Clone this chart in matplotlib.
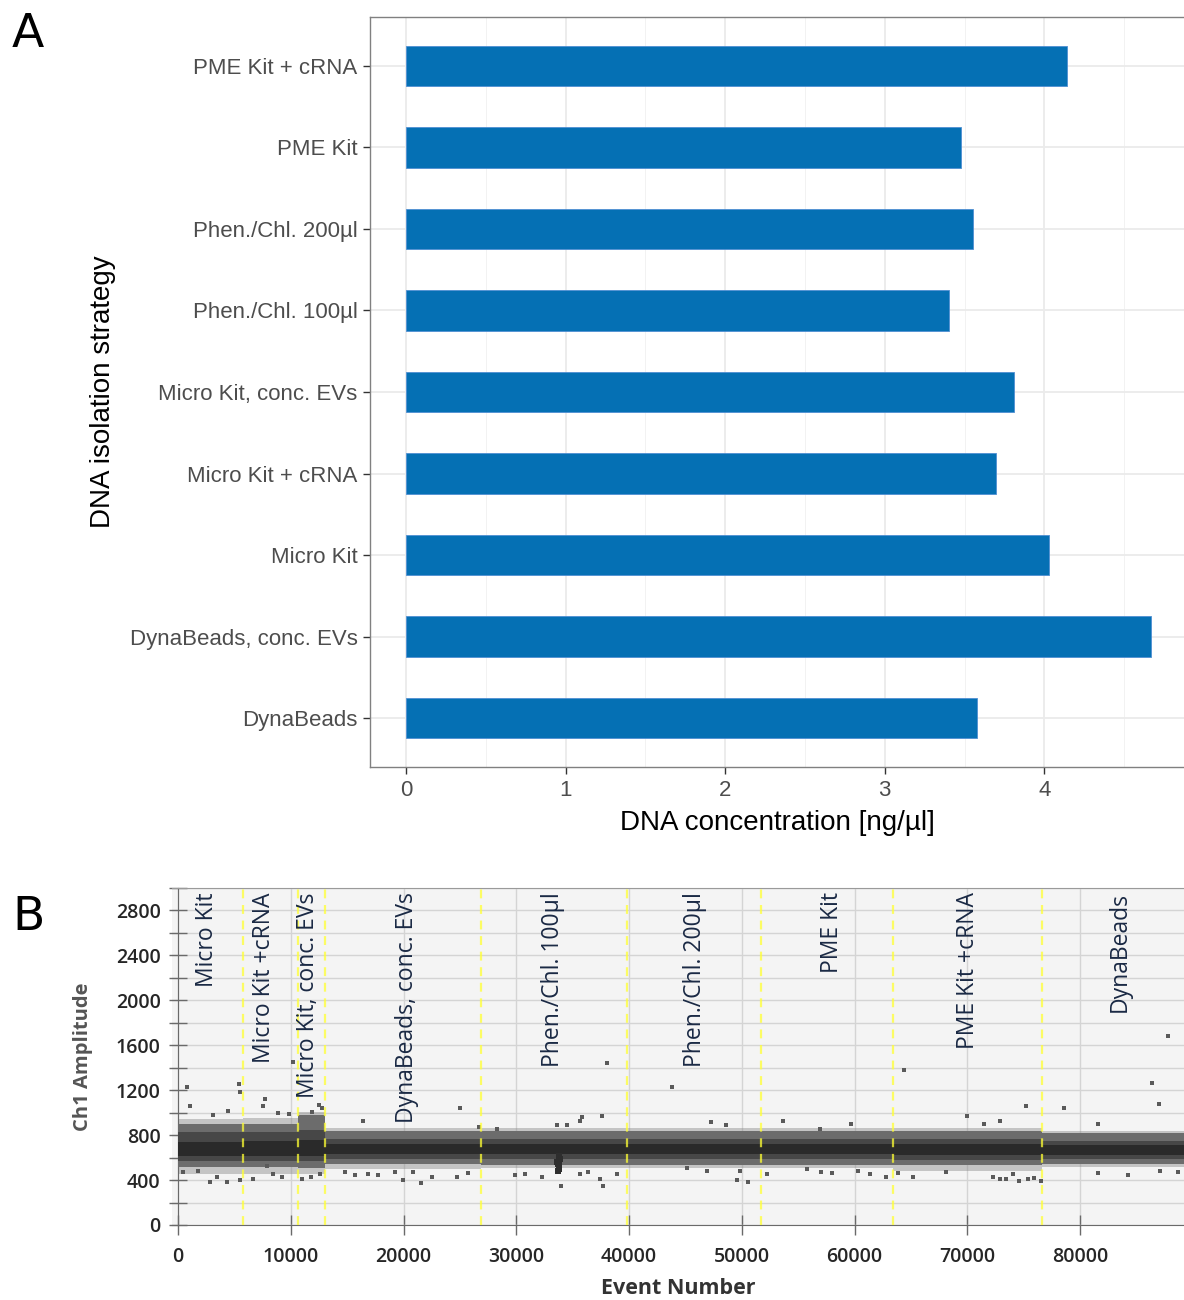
import numpy as np
import matplotlib
matplotlib.use("Agg")
import matplotlib.pyplot as plt
from matplotlib.ticker import MultipleLocator

# ---- panel A: DNA yield per isolation strategy ----
strategies = ["DynaBeads", "DynaBeads, conc. EVs", "Micro Kit", "Micro Kit + cRNA",
              "Micro Kit, conc. EVs", "Phen./Chl. 100µl", "Phen./Chl. 200µl",
              "PME Kit", "PME Kit + cRNA"]
concentration = [3.58, 4.67, 4.03, 3.70, 3.81, 3.40, 3.55, 3.48, 4.14]

# ---- panel B: droplet amplitudes along the run ----
# run sections (event number where each sample starts / ends) and their names
section_start = [0, 5800, 10600, 13000, 26900, 39800, 51700, 63400, 76600]
section_end = [5800, 10600, 13000, 26900, 39800, 51700, 63400, 76600, 89600]
section_names = ["Micro Kit", "Micro Kit +cRNA", "Micro Kit, conc. EVs",
                 "DynaBeads, conc. EVs", "Phen./Chl. 100µl", "Phen./Chl. 200µl",
                 "PME Kit", "PME Kit +cRNA", "DynaBeads"]
label_pos = [2550, 7650, 11550, 20270, 33270, 45830, 57950, 70060, 83510]

# amplitude envelope of the negative droplet band in each section
fringe_lo = [450, 450, 450, 500, 505, 505, 505, 480, 515]
fringe_hi = [940, 950, 1010, 860, 860, 860, 865, 860, 840]
outer_lo = [515, 515, 510, 545, 535, 535, 535, 530, 545]
outer_hi = [900, 900, 975, 835, 835, 835, 840, 835, 815]
mid_lo = [570, 570, 570, 585, 585, 585, 585, 580, 585]
mid_hi = [825, 830, 850, 765, 765, 765, 770, 765, 750]
core_lo = [615, 615, 615, 630, 630, 630, 630, 625, 625]
core_hi = [740, 745, 755, 720, 720, 720, 725, 720, 710]

# scattered single droplets outside the band
stray_x = [770, 1060, 5500, 5410, 4430, 7710, 7540, 10200, 12500, 16370,
           25000, 38000, 43770, 35790, 35640, 37560, 33570, 34460, 47250, 48550,
           53660, 28250, 26680, 56910, 59660, 64360, 69980, 71480, 72870, 75150,
           78550, 81590, 86320, 86970, 87790, 9800, 11900, 12800, 3100, 8900,
           19970, 21510, 33950, 37710, 49530, 50500, 19240, 20830, 22490, 24700,
           25740, 29880, 30760, 32240, 35640, 36380, 38890, 37410, 45100, 46870,
           49820, 52190, 55730, 56970, 57950, 60310, 61350, 62820, 63860, 65130,
           68140, 72870, 74050, 75380, 76510, 81590, 84250, 87060, 88690, 2840,
           4310, 5500, 415, 6680, 9190, 10960, 11760, 12590, 16870, 17760,
           1800, 3430, 7860, 8450, 72300, 73400, 74600, 75900, 14800, 15700]
stray_y = [1225, 1060, 1182, 1253, 1016, 1120, 1058, 1452, 1067, 927,
           1040, 1446, 1230, 957, 927, 966, 889, 889, 913, 889,
           927, 859, 868, 859, 903, 1381, 966, 898, 927, 1055,
           1040, 903, 1268, 1076, 1683, 990, 1010, 1040, 980, 1000,
           400, 373, 350, 350, 400, 385, 468, 468, 424, 424,
           462, 444, 453, 424, 453, 468, 453, 409, 504, 483,
           483, 453, 498, 468, 462, 483, 453, 424, 462, 424,
           474, 409, 453, 409, 394, 462, 444, 483, 474, 379,
           379, 403, 468, 409, 424, 409, 424, 453, 453, 444,
           483, 424, 527, 453, 430, 410, 395, 420, 470, 445]

# dense clump of droplets in the Phen./Chl. 100µl section
clump_x = [33650, 33750, 33850, 33700, 33800, 33750, 33700, 33800]
clump_y = [560, 520, 590, 540, 500, 610, 480, 560]

fig = plt.figure(figsize=(11.84, 13), dpi=100)

# ---------------- panel A ----------------
axA = fig.add_axes([370 / 1184, 1 - 767 / 1300, 1 - 370 / 1184, 750 / 1300])
ypos = np.arange(1, len(strategies) + 1)
axA.barh(ypos, concentration, height=0.5, color="#0570b4",
         edgecolor="#4f8fd2", linewidth=0.6, zorder=3)
axA.set_xlim(-0.226, 4.875)
axA.set_ylim(0.4, 9.6)
axA.set_yticks(ypos)
axA.set_yticklabels(strategies)
axA.set_xticks([0, 1, 2, 3, 4])
axA.xaxis.set_minor_locator(MultipleLocator(0.5))
axA.grid(which="major", color="#ebebeb", linewidth=1.3, zorder=0)
axA.grid(which="minor", axis="x", color="#f2f2f2", linewidth=0.7, zorder=0)
axA.set_axisbelow(True)
for side in ["left", "top", "bottom"]:
    axA.spines[side].set_color("#808080")
    axA.spines[side].set_linewidth(1.0)
axA.spines["right"].set_visible(False)
axA.tick_params(axis="both", which="major", length=5, width=1.0, color="#333333",
                labelcolor="#4d4d4d", labelsize=16, pad=4)
axA.tick_params(axis="x", which="minor", length=0)
for t in axA.get_xticklabels() + axA.get_yticklabels():
    t.set_fontfamily("Liberation Sans")
axA.set_xlabel("DNA concentration [ng/µl]", fontsize=20, family="Liberation Sans",
               labelpad=7)
axA.set_ylabel("DNA isolation strategy", fontsize=20, family="Liberation Sans",
               labelpad=10)

# ---------------- panel B ----------------
axB = fig.add_axes([172 / 1184, 1 - 1225 / 1300, 1 - 172 / 1184, 337 / 1300])
axB.set_facecolor("#f4f4f4")
axB.set_xlim(-530, 89200)
axB.set_ylim(0, 3000)

for i in range(len(section_start)):
    xs = [section_start[i], section_end[i]]
    # thin, sparse edge of the band
    axB.fill_between(xs, fringe_lo[i], fringe_hi[i], color="#8a8a8a", alpha=0.45,
                     linewidth=0, zorder=2)
    axB.fill_between(xs, outer_lo[i], outer_hi[i], color="#6c6c6c",
                     linewidth=0, zorder=3)
    axB.fill_between(xs, mid_lo[i], mid_hi[i], color="#474747",
                     linewidth=0, zorder=3)
    axB.fill_between(xs, core_lo[i], core_hi[i], color="#2a2a2a",
                     linewidth=0, zorder=4)

axB.scatter(stray_x, stray_y, marker="s", s=10, color="#5a5a5a", linewidths=0,
            zorder=5)
axB.scatter(clump_x, clump_y, marker="s", s=22, color="#2e2e2e", linewidths=0,
            zorder=5)

for x in section_start[1:]:
    axB.axvline(x, color="#ffff33", alpha=0.75, linestyle=(0, (4, 3)),
                linewidth=1.6, zorder=6)

for x, name in zip(label_pos, section_names):
    axB.text(x, 2960, name, rotation=90, ha="center", va="top", fontsize=16.5,
             color="#1a2944", family="Open Sans", zorder=7)

axB.yaxis.set_major_locator(MultipleLocator(400))
axB.yaxis.set_minor_locator(MultipleLocator(200))
axB.set_xticks(np.arange(0, 90000, 10000))
axB.grid(which="major", axis="x", color="#d4d4d4", linewidth=1.0, zorder=1)
axB.grid(which="both", axis="y", color="#d4d4d4", linewidth=1.0, zorder=1)
axB.set_axisbelow(True)

axB.spines["left"].set_position(("data", 0))
axB.spines["left"].set_color("#6a6a6a")
axB.spines["bottom"].set_color("#6a6a6a")
axB.spines["top"].set_color("#9a9a9a")
axB.spines["right"].set_visible(False)
axB.tick_params(axis="y", which="both", direction="inout", length=13, width=1.0,
                color="#6a6a6a", pad=6)
axB.tick_params(axis="x", which="major", direction="inout", length=14, width=1.0,
                color="#6a6a6a", pad=9)
axB.tick_params(axis="both", labelsize=14, labelcolor="#262626")
for t in axB.get_xticklabels() + axB.get_yticklabels():
    t.set_fontfamily("Open Sans")
    t.set_fontweight("semibold")
axB.set_xlabel("Event Number", fontsize=15.5, fontweight="bold", family="Open Sans",
               color="#333333", labelpad=8)
axB.yaxis.set_label_coords(-0.078, 0.5)
axB.set_ylabel("Ch1 Amplitude", fontsize=14.5, fontweight="bold", family="Open Sans",
               color="#555555")

# panel letters
fig.text(12 / 1184, 1 - 12 / 1300, "A", fontsize=34, va="top", ha="left")
fig.text(12 / 1184, 1 - 895 / 1300, "B", fontsize=34, va="top", ha="left")

fig.savefig("out.png", dpi=100)
